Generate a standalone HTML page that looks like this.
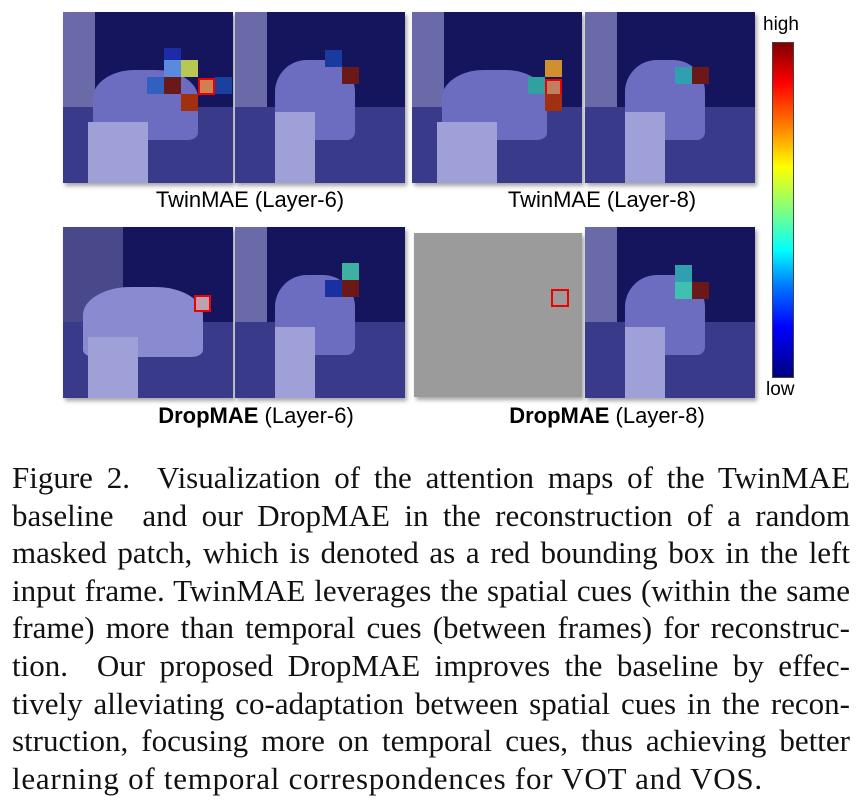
<!DOCTYPE html>
<html><head><meta charset="utf-8"><style>
body{margin:0;width:860px;height:812px;background:#fff;position:relative;overflow:hidden;font-family:"Liberation Sans",sans-serif}
.p{position:absolute;width:170px;height:171px;background:#15155e;overflow:hidden;box-shadow:2px 3px 4px rgba(0,0,0,.35)}
.p i{position:absolute;display:block}
.wall{left:0;top:0;width:32px;height:171px;background:#6a6aa8}
.ground{left:0;top:95px;width:170px;height:76px;background:#3a3a8a}
.body{background:#6c6cc0;border-radius:40% 40% 10% 10%}
.leg{background:#a0a0d8}
.c{width:17px;height:17px}
.rb{border:2px solid #e00;box-sizing:border-box}
.lab{position:absolute;font-size:22px;color:#000;text-align:center;width:300px}
.cap{position:absolute;left:12px;width:838px;font-family:"Liberation Serif",serif;font-size:31px;line-height:37.6px;top:459px;color:#111}
.cap div{text-align:justify;text-align-last:justify;white-space:nowrap;height:37.6px}
.cap div.last{text-align-last:left;letter-spacing:0.75px}
</style></head><body>
<div class="p" style="left:63px;top:12px">
<i class="wall"></i><i class="ground"></i><i class="body" style="left:30px;top:58px;width:105px;height:70px"></i><i class="leg" style="left:25px;top:110px;width:60px;height:61px"></i>
<i class="c" style="left:101px;top:36px;background:#1c2ca8"></i><i class="c" style="left:118px;top:48px;background:#b8c850"></i><i class="c" style="left:101px;top:48px;background:#5a8ae0"></i>
<i class="c" style="left:101px;top:65px;background:#6a1818"></i><i class="c rb" style="left:135px;top:66px;background:#d08050"></i><i class="c" style="left:118px;top:82px;background:#a03010"></i><i class="c" style="left:152px;top:65px;background:#1a40a0"></i><i class="c" style="left:84px;top:65px;background:#3060c0"></i></div>
<div class="p" style="left:235px;top:12px">
<i class="wall"></i><i class="ground"></i><i class="body" style="left:40px;top:48px;width:80px;height:80px"></i><i class="leg" style="left:40px;top:100px;width:40px;height:71px"></i>
<i class="c" style="left:90px;top:38px;background:#1a3aa0"></i><i class="c" style="left:107px;top:55px;background:#6a1818"></i></div>
<div class="p" style="left:412px;top:12px">
<i class="wall"></i><i class="ground"></i><i class="body" style="left:30px;top:58px;width:105px;height:70px"></i><i class="leg" style="left:25px;top:110px;width:60px;height:61px"></i>
<i class="c" style="left:133px;top:48px;background:#d09030"></i><i class="c" style="left:116px;top:65px;background:#30a0a0"></i><i class="c rb" style="left:133px;top:67px;background:#c08060"></i><i class="c" style="left:133px;top:82px;background:#a03010"></i></div>
<div class="p" style="left:585px;top:12px">
<i class="wall"></i><i class="ground"></i><i class="body" style="left:40px;top:48px;width:80px;height:80px"></i><i class="leg" style="left:40px;top:100px;width:40px;height:71px"></i>
<i class="c" style="left:90px;top:55px;background:#30a0b0"></i><i class="c" style="left:107px;top:55px;background:#6a1818"></i></div>
<div class="p" style="left:63px;top:227px">
<i class="wall" style="width:60px;opacity:.6"></i><i class="ground"></i><i class="body" style="left:20px;top:60px;width:120px;height:70px;background:#8a8ad0"></i><i class="leg" style="left:25px;top:110px;width:50px;height:61px"></i>
<i class="c rb" style="left:131px;top:68px;background:#c0a0b0"></i></div>
<div class="p" style="left:235px;top:227px">
<i class="wall"></i><i class="ground"></i><i class="body" style="left:40px;top:48px;width:80px;height:80px"></i><i class="leg" style="left:40px;top:100px;width:40px;height:71px"></i>
<i class="c" style="left:107px;top:36px;background:#40b0a0"></i><i class="c" style="left:107px;top:53px;background:#6a1818"></i><i class="c" style="left:90px;top:53px;background:#1a30a0"></i></div>
<div class="p" style="left:414px;top:233px;width:168px;height:164px;background:#9b9b9b">
<i class="rb" style="left:137px;top:56px;width:18px;height:18px"></i></div>
<div class="p" style="left:585px;top:227px">
<i class="wall"></i><i class="ground"></i><i class="body" style="left:40px;top:48px;width:80px;height:80px"></i><i class="leg" style="left:40px;top:100px;width:40px;height:71px"></i>
<i class="c" style="left:90px;top:38px;background:#30a0b0"></i><i class="c" style="left:107px;top:55px;background:#6a1818"></i><i class="c" style="left:90px;top:55px;background:#40c0b0"></i></div>
<div class="lab" style="left:100px;top:187px">TwinMAE (Layer-6)</div>
<div class="lab" style="left:452px;top:187px">TwinMAE (Layer-8)</div>
<div class="lab" style="left:106px;top:403px"><b>DropMAE</b> (Layer-6)</div>
<div class="lab" style="left:457px;top:403px"><b>DropMAE</b> (Layer-8)</div>
<div style="position:absolute;left:772px;top:42px;width:20px;height:334px;border:1px solid #444;background:linear-gradient(to bottom,#800000,#ff0000 12%,#ff8000 25%,#ffff00 37%,#80ff80 50%,#00ffff 62%,#0080ff 72%,#0000ff 85%,#000080)"></div>
<div style="position:absolute;left:763px;top:14px;font-size:19px">high</div>
<div style="position:absolute;left:766px;top:379px;font-size:19px">low</div>
<div class="cap">
<div>Figure 2.&nbsp; Visualization of the attention maps of the TwinMAE</div>
<div>baseline&nbsp; and our DropMAE in the reconstruction of a random</div>
<div>masked patch, which is denoted as a red bounding box in the left</div>
<div>input frame. TwinMAE leverages the spatial cues (within the same</div>
<div>frame) more than temporal cues (between frames) for reconstruc-</div>
<div>tion.&nbsp; Our proposed DropMAE improves the baseline by effec-</div>
<div>tively alleviating co-adaptation between spatial cues in the recon-</div>
<div>struction, focusing more on temporal cues, thus achieving better</div>
<div class="last">learning of temporal correspondences for VOT and VOS.</div>
</div>
</body></html>
